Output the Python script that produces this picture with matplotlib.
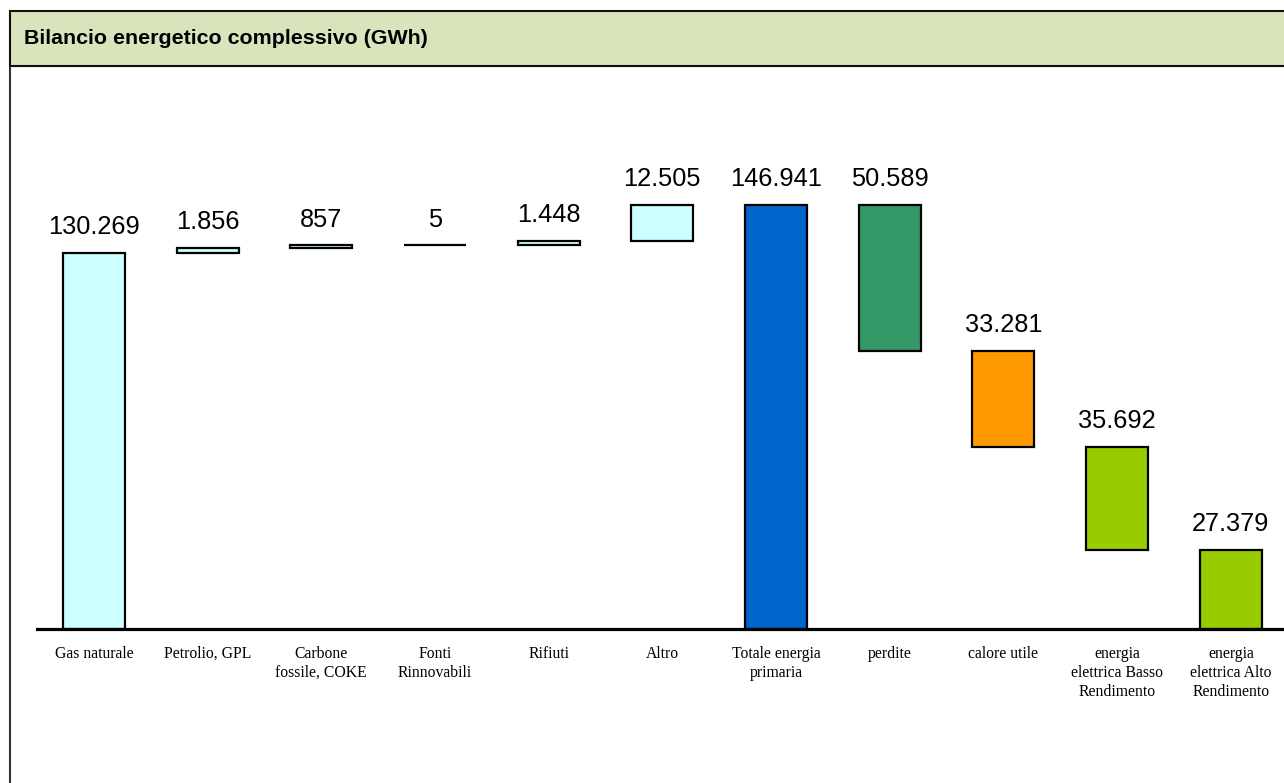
import matplotlib
matplotlib.use("Agg")
import matplotlib.pyplot as plt
from matplotlib.patches import Rectangle
import numpy as np

categories = ["Gas naturale", "Petrolio, GPL", "Carbone\nfossile, COKE", "Fonti\nRinnovabili",
              "Rifiuti", "Altro", "Totale energia\nprimaria", "perdite", "calore utile",
              "energia\nelettrica Basso\nRendimento", "energia\nelettrica Alto\nRendimento"]
values = [130269, 1856, 857, 5, 1448, 12505, 146941, 50589, 33281, 35692, 27379]
kinds = ["in", "in", "in", "in", "in", "in", "total", "out", "out", "out", "out"]
colors = ["#CCFFFF", "#CCFFFF", "#CCFFFF", "#CCFFFF", "#CCFFFF", "#CCFFFF",
          "#0066CC", "#339966", "#FF9900", "#99CC00", "#99CC00"]
title = "Bilancio energetico complessivo (GWh)"

W, H = 1284, 783
fig = plt.figure(figsize=(W / 100, H / 100), dpi=100)

# frame and title bar
fig.patches.append(Rectangle((10 / W, -0.1), 1.2, 0.1 + (H - 66) / H, transform=fig.transFigure,
                             facecolor="white", edgecolor="#333333", linewidth=1.5, zorder=0))
fig.patches.append(Rectangle((10 / W, (H - 66) / H), 1.2, 55 / H, transform=fig.transFigure,
                             facecolor="#D8E4BC", edgecolor="#111111", linewidth=1.5, zorder=1))
fig.text(24 / W, 1 - 38 / H, title, fontsize=15.4, fontweight="bold",
         family="Liberation Sans", va="center", ha="left", zorder=2)

# axes
step = 113.7
ax_left = 37 / W
ax_w = 11 * step / W
ax_bottom = (H - 629) / H
ax_h = (629 - 80) / H
ax = fig.add_axes([ax_left, ax_bottom, ax_w, ax_h], zorder=5)
ax.set_facecolor("none")

x = np.arange(len(categories))
bottoms = []
tops = []
run = 0
for v, k in zip(values, kinds):
    if k == "in":
        bottoms.append(run)
        run += v
    elif k == "total":
        bottoms.append(0)
        run = v
    else:
        run -= v
        bottoms.append(run)
    tops.append(bottoms[-1] + v)

ax.bar(x, values, bottom=bottoms, width=0.545, color=colors, edgecolor="black",
       linewidth=1.6, zorder=3)

for xi, v, t in zip(x, values, tops):
    lab = f"{v:,}".replace(",", ".")
    ax.annotate(lab, (xi, t), xytext=(0, 13.5), textcoords="offset points",
                ha="center", va="baseline", fontsize=18.3, family="Liberation Sans")

ymax = (629 - 80) / 424 * 146941
ax.set_ylim(0, ymax)
ax.set_xlim(-0.5, len(categories) - 0.5)
for s in ["top", "right", "left"]:
    ax.spines[s].set_visible(False)
ax.spines["bottom"].set_linewidth(2.3)
ax.spines["bottom"].set_zorder(4)
ax.set_yticks([])
ax.set_xticks(x)
ax.set_xticklabels(categories, family="Liberation Serif", fontsize=11.3,
                   linespacing=1.28, multialignment="center")
ax.tick_params(axis="x", length=0, pad=12)

fig.savefig("out.png", dpi=100)
